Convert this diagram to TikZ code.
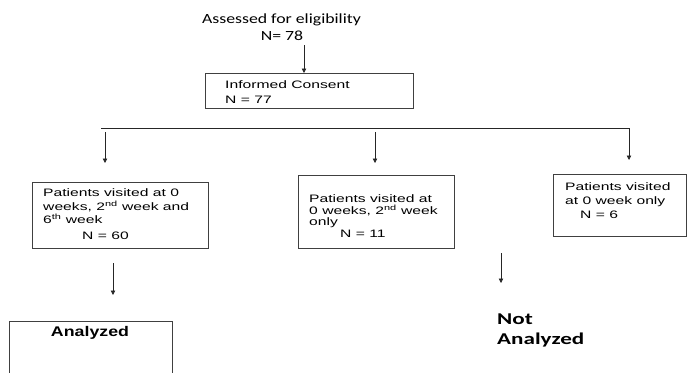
\documentclass[tikz,border=0pt]{standalone}
\usepackage{fontspec}
\usetikzlibrary{arrows.meta}
\newfontfamily\arialw[FakeStretch=1.45]{Liberation Sans}
\newfontfamily\arialbw[FakeStretch=1.27]{Liberation Sans}
\newfontfamily\calw[FakeStretch=1.27]{Carlito}
\newfontfamily\calbw[FakeStretch=1.4]{Carlito}
\begin{document}
\begin{tikzpicture}[x=1pt,y=-1pt,
  box/.style={draw=black!75, line width=0.9pt, inner sep=0pt, anchor=north west},
  arr/.style={draw=black!85, line width=0.8pt, -{Triangle[length=4.5pt,width=4.5pt]}},
  ln/.style={draw=black!60, line width=1pt},
  txt/.style={inner sep=0pt, anchor=north west, align=left},
  ar/.style={font=\arialw\fontsize{10.8}{#1}\selectfont},
  ar/.default=13.5]
\clip (0,0) rectangle (687,372);
% top text
\node[inner sep=0pt, font=\calw\fontsize{14}{16}\selectfont] (assess) at (281.5,20) {Assessed for eligibility};
\node[inner sep=0pt, font=\calw\fontsize{14}{16}\selectfont] (n78) at (282,36) {N= 78};
% consent
\node[box, minimum width=208pt, minimum height=35pt] (consent) at (205,73) {};
\node[txt, ar=14.5] (consentT) at (225,80.5) {Informed Consent\\N = 77};
\coordinate (a0) at (304,45);
\draw[arr] (a0) -- (a0 |- consent.north);
% split
\coordinate (hl) at (101,128);
\coordinate (hr) at (629,128);
\coordinate (e3) at (629,160);
\draw[arr] (hl) -- (hr) -- (e3);
\coordinate (s1) at (105,132); \coordinate (e1) at (105,163);
\coordinate (s2) at (375,132); \coordinate (e2) at (375,163);
\draw[arr] (s1) -- (e1);
\draw[arr] (s2) -- (e2);
% boxes
\node[box, minimum width=176pt, minimum height=66pt] (b1) at (32,182) {};
\node[txt, ar=13.5] (b1t) at (43,188.5) {Patients visited at 0\\weeks, 2\textsuperscript{nd} week and\\6\textsuperscript{th} week\\[2.5pt]\hspace*{39pt}N = 60};
\node[box, minimum width=156pt, minimum height=73pt] (b2) at (298,175) {};
\node[txt, ar=11.5] (b2t) at (309,194.5) {Patients visited at\\0 weeks, 2\textsuperscript{nd} week\\only\\\hspace*{31pt}N = 11};
\node[box, minimum width=133pt, minimum height=62pt] (b3) at (553,174) {};
\node[txt, ar=14] (b3t) at (565,182.5) {Patients visited\\at 0 week only\\\hspace*{15pt}N = 6};
% lower arrows
\coordinate (s4) at (113,263); \coordinate (e4) at (113,295);
\coordinate (s5) at (501,253); \coordinate (e5) at (501,283);
\draw[arr] (s4) -- (e4);
\draw[arr] (s5) -- (e5);
% analyzed
\node[box, minimum width=163pt, minimum height=80pt] (an) at (9,321) {};
\node[inner sep=0pt, font=\arialbw\bfseries\fontsize{14}{16}\selectfont] (ant) at (90,333) {Analyzed};
\node[txt, font=\calbw\bfseries\fontsize{16.5}{20}\selectfont] (na) at (497,313.5) {Not\\Analyzed};
\end{tikzpicture}
\end{document}
